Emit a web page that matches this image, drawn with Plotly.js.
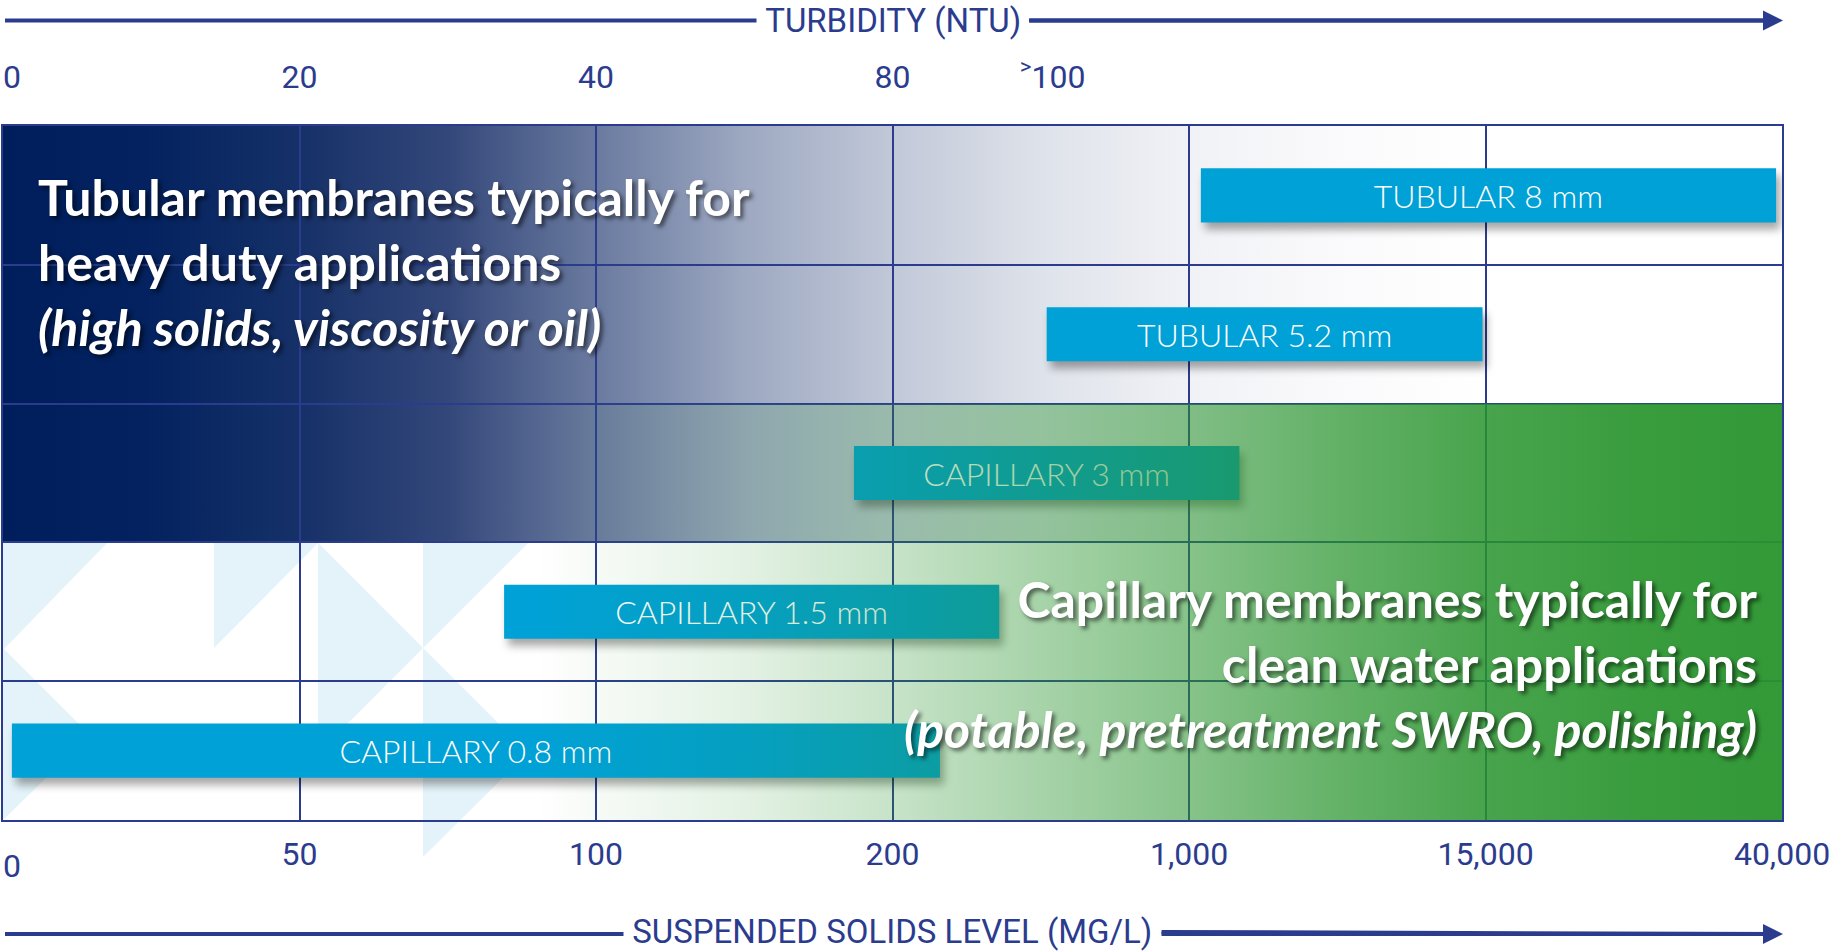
<!DOCTYPE html>
<html>
<head>
<meta charset="utf-8">
<script src="https://cdn.plot.ly/plotly-3.0.1.min.js"></script>
<style>
html,body{margin:0;padding:0;background:#fff;overflow:hidden}
#chart{width:1833px;height:951px}
</style>
</head>
<body>
<div id="chart"></div>
<script>
// ---------------- DATA ----------------
// membrane types (rows, top to bottom)
const membranes = ['TUBULAR 8 mm', 'TUBULAR 5.2 mm', 'CAPILLARY 3 mm', 'CAPILLARY 1.5 mm', 'CAPILLARY 0.8 mm'];
// operating window on the banded solids scale (0=0, 1=50, 2=100, 3=200, 4=1,000, 5=15,000, 6=40,000 mg/L)
const rangeStart = [4.04, 3.52, 2.87, 1.69, 0.03];
const rangeEnd   = [5.98, 4.99, 4.17, 3.36, 3.16];
// bottom axis: suspended solids level (mg/L)
const solidsTickPos  = [0, 1, 2, 3, 4, 5, 6];
const solidsTickText = ['0', '50', '100', '200', '1,000', '15,000', '40,000'];
// top axis: turbidity (NTU)
const turbTickPos  = [0, 1, 2, 3, 3.54];
const turbTickText = ['0', '20', '40', '80', '>100'];
// texts
const topTitle = 'TURBIDITY (NTU)';
const bottomTitle = 'SUSPENDED SOLIDS LEVEL (MG/L)';
const tubularNote = ['Tubular membranes typically for', 'heavy duty applications', '(high solids, viscosity or oil)'];
const capillaryNote = ['Capillary membranes typically for', 'clean water applications', '(potable, pretreatment SWRO, polishing)'];

// ---------------- STYLE ----------------
const NAVY = '#2B3C8E';
const BAR = '#00A1D6';
const W = 1833, H = 951;
const M = {l: 3, r: 51, t: 126, b: 131};
const PW = W - M.l - M.r, PH = H - M.t - M.b;
const px = X => (X - M.l) / PW;      // page px -> paper
const py = Y => (H - M.b - Y) / PH;

function fmtTick(t) {
  if (t.charAt(0) === '>') return '<sup>&gt;</sup>' + t.slice(1);
  return t;
}

function gradient(stops) {
  const s = stops.map(v => `<stop offset="${v[0]}" stop-color="${v[1]}" stop-opacity="${v[2]}"/>`).join('');
  const svg = `<svg xmlns="http://www.w3.org/2000/svg" width="600" height="100" viewBox="0 0 600 100" preserveAspectRatio="none"><defs><linearGradient id="g" x1="0" y1="0" x2="1" y2="0">${s}</linearGradient></defs><rect x="0" y="0" width="600" height="100" fill="url(#g)"/></svg>`;
  return 'data:image/svg+xml;base64,' + btoa(svg);
}

const blueGrad = gradient([
  [0, '#001E5C', 1], [0.08, '#03225F', 1], [0.1667, '#163168', 1], [0.25, '#33477A', 1],
  [0.333, '#6A7A9F', 1], [0.4167, '#9DA8C1', 1], [0.5, '#C1C8D8', 1], [0.583, '#DEE2EA', 1],
  [0.667, '#F1F2F6', 1], [0.75, '#FAFAFC', 1], [0.833, '#FFFFFF', 1], [1, '#FFFFFF', 1]
]);
const greenGrad = gradient([
  [0, '#28942D', 0], [0.30, '#28942D', 0], [0.333, '#28942D', 0.04], [0.4167, '#28942D', 0.13],
  [0.5, '#28942D', 0.26], [0.583, '#28942D', 0.41], [0.667, '#28942D', 0.56], [0.75, '#28942D', 0.72],
  [0.833, '#28942D', 0.85], [0.917, '#28942D', 0.92], [1, '#28942D', 0.95]
]);

// decorative light-blue triangles (page px)
const tri = [
  [[3,543],[107,543],[3,650]],
  [[3,648],[90,735],[3,820]],
  [[214,543],[318,543],[214,648]],
  [[318,543],[423,648],[318,753]],
  [[423,543],[528,543],[423,648]],
  [[423,648],[528,753],[423,857]]
];
const TOPLINE = 20.5, BOTLINE = 934;
const shapes = tri.map(p => ({
  type: 'path', xref: 'paper', yref: 'paper', layer: 'below',
  path: 'M' + p.map(q => px(q[0]).toFixed(4) + ',' + py(q[1]).toFixed(4)).join('L') + 'Z',
  fillcolor: '#E3F3F9', line: {width: 0}
})).concat([TOPLINE, BOTLINE].map(yy => ({
  type: 'line', xref: 'paper', yref: 'paper', layer: 'below',
  x0: px(5), x1: px(1772), y0: py(yy), y1: py(yy), line: {color: NAVY, width: 4}
})));

const traces = [
  {
    type: 'bar', orientation: 'h',
    y: membranes,
    base: rangeStart,
    x: rangeEnd.map((e, i) => e - rangeStart[i]),
    width: 0.39,
    marker: {color: BAR, line: {width: 0}},
    text: membranes,
    textposition: 'inside', insidetextanchor: 'middle', textangle: 0,
    constraintext: 'none',
    insidetextfont: {family: 'Lato', size: 32, color: '#ffffff', weight: 300},
    hoverinfo: 'skip', cliponaxis: false
  }
].concat(['x2', 'x3', 'x4'].map(ax => ({
  type: 'scatter', x: [0, 6], y: [membranes[0], membranes[0]], xaxis: ax, yaxis: 'y',
  mode: 'none', hoverinfo: 'skip', showlegend: false
})));

const noteFont = {family: 'Lato', size: 50, color: '#ffffff', weight: 700,
                  shadow: '3px 3px 4px rgba(0,0,0,0.55)'};
const titleFont = {family: 'Roboto', size: 33, color: NAVY};
const tickFont = {family: 'Roboto', size: 32, color: NAVY};
const CENTER = (M.l + W - M.r) / 2;

const annotations = [
  // axis titles with arrow pointing right
  {xref: 'paper', yref: 'paper', x: px(1783), y: py(TOPLINE), ax: CENTER - 1783, ay: 0,
   text: '\u00a0' + topTitle + '\u00a0', bgcolor: '#ffffff', borderpad: 0, font: titleFont,
   showarrow: true, arrowhead: 2, arrowsize: 1, arrowwidth: 4, arrowcolor: NAVY, standoff: 0, startstandoff: 0},
  {xref: 'paper', yref: 'paper', x: px(1783), y: py(BOTLINE), ax: CENTER - 1783, ay: -3,
   text: '\u00a0' + bottomTitle + '\u00a0', bgcolor: '#ffffff', borderpad: 0, font: titleFont,
   showarrow: true, arrowhead: 2, arrowsize: 1, arrowwidth: 4, arrowcolor: NAVY, standoff: 0, startstandoff: 0},
  // notes
  {xref: 'paper', yref: 'paper', x: px(36), y: py(165), xanchor: 'left', yanchor: 'top', align: 'left',
   text: tubularNote[0] + '<br>' + tubularNote[1] + '<br><i>' + tubularNote[2] + '</i>',
   showarrow: false, font: noteFont},
  {xref: 'paper', yref: 'paper', x: px(1759), y: py(567), xanchor: 'right', yanchor: 'top', align: 'right',
   text: capillaryNote[0] + '<br>' + capillaryNote[1] + '<br><i>' + capillaryNote[2] + '</i>',
   showarrow: false, font: noteFont}
];

const layout = {
  width: W, height: H,
  margin: M,
  paper_bgcolor: '#ffffff', plot_bgcolor: 'rgba(0,0,0,0)',
  showlegend: false,
  barmode: 'overlay',
  // bottom axis (all ticks except the first, centred)
  xaxis: {
    range: [0, 6], tickmode: 'array', tickvals: solidsTickPos.slice(1), ticktext: solidsTickText.slice(1).map(fmtTick),
    showgrid: true, gridcolor: NAVY, gridwidth: 2, zeroline: false,
    showline: true, mirror: true, linecolor: NAVY, linewidth: 2,
    ticks: '', ticklabelstandoff: 5, ticklabeloverflow: 'allow',
    tickfont: tickFont, fixedrange: true
  },
  // top axis (turbidity)
  xaxis2: {
    overlaying: 'x', side: 'top', range: [0, 6], tickmode: 'array', tickvals: turbTickPos.slice(1),
    ticktext: turbTickText.slice(1).map(fmtTick),
    showgrid: false, zeroline: false, showline: false, ticks: '', ticklabelstandoff: 31,
    ticklabeloverflow: 'allow', tickfont: tickFont, fixedrange: true
  },
  // first tick of each axis, placed to the right of its position
  xaxis3: {
    overlaying: 'x', side: 'bottom', range: [0, 6], tickmode: 'array',
    tickvals: solidsTickPos.slice(0, 1), ticktext: solidsTickText.slice(0, 1),
    ticklabelposition: 'outside right',
    showgrid: false, zeroline: false, showline: false, ticks: '', ticklabelstandoff: 24,
    ticklabeloverflow: 'allow', tickfont: tickFont, fixedrange: true
  },
  xaxis4: {
    overlaying: 'x', side: 'top', range: [0, 6], tickmode: 'array',
    tickvals: turbTickPos.slice(0, 1), ticktext: turbTickText.slice(0, 1),
    ticklabelposition: 'outside right',
    showgrid: false, zeroline: false, showline: false, ticks: '', ticklabelstandoff: 31,
    ticklabeloverflow: 'allow', tickfont: tickFont, fixedrange: true
  },
  yaxis: {
    type: 'category', categoryorder: 'array', categoryarray: membranes, range: [4.5, -0.5],
    tickson: 'boundaries', showgrid: true, gridcolor: NAVY, gridwidth: 2,
    showticklabels: false, ticks: '', zeroline: false,
    showline: true, mirror: true, linecolor: NAVY, linewidth: 2, fixedrange: true
  },
  images: [
    {source: blueGrad, xref: 'paper', yref: 'paper', x: 0, y: 1, sizex: 1, sizey: 0.6,
     xanchor: 'left', yanchor: 'top', sizing: 'stretch', layer: 'below'},
    {source: greenGrad, xref: 'paper', yref: 'paper', x: 0, y: 0.6, sizex: 1, sizey: 0.6,
     xanchor: 'left', yanchor: 'top', sizing: 'stretch', layer: 'above'}
  ],
  shapes: shapes,
  annotations: annotations
};

Plotly.newPlot('chart', traces, layout, {displayModeBar: false, staticPlot: true}).then(gd => {
  gd.querySelectorAll('.barlayer .point path').forEach(p => {
    p.style.filter = 'drop-shadow(4px 7px 4px rgba(0,0,0,0.35))';
  });
});
</script>
</body>
</html>
